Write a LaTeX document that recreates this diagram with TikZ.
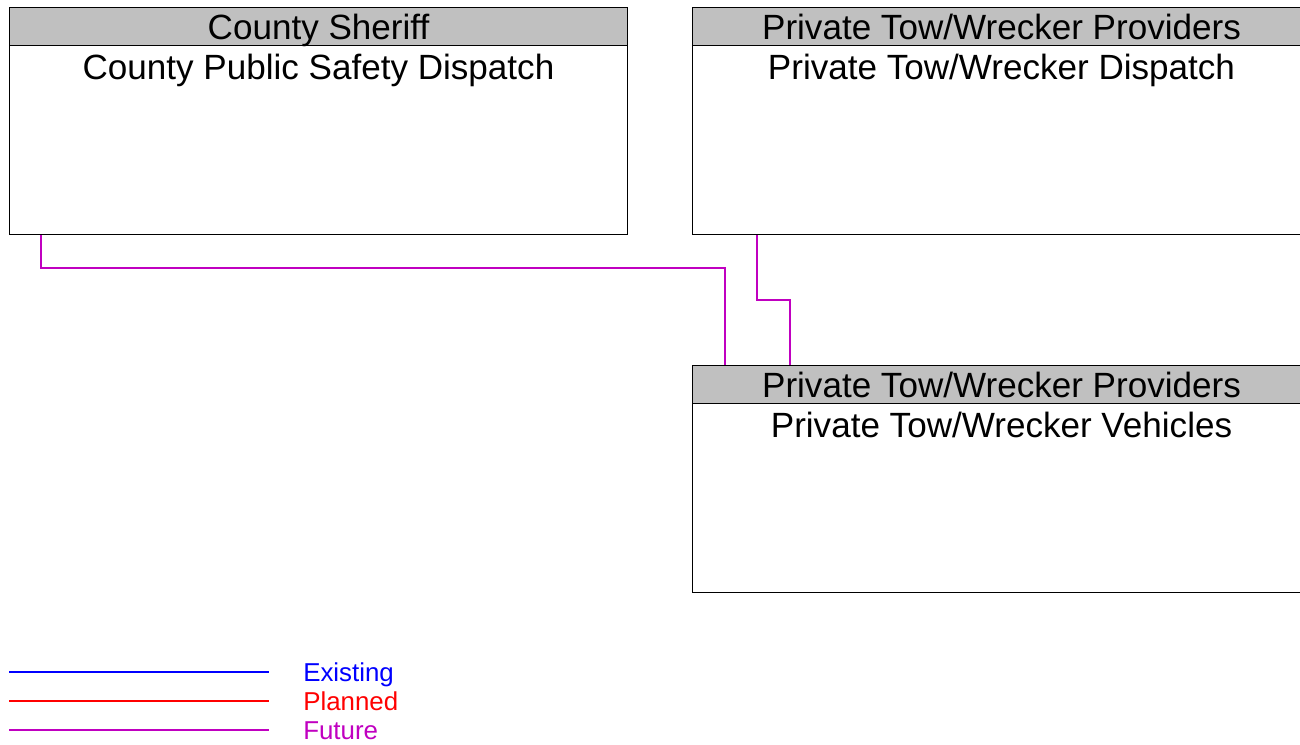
\documentclass[tikz,border=0pt]{standalone}
\usepackage{fontspec}
\setmainfont{Liberation Sans}
\usepackage{xcolor}
\usetikzlibrary{positioning}

\definecolor{hdrgray}{HTML}{C0C0C0}
\definecolor{existcol}{HTML}{0000FF}
\definecolor{plancol}{HTML}{FF0000}
\definecolor{futurecol}{HTML}{C000C0}

\begin{document}
\begin{tikzpicture}[
    x=0.75pt, y=-0.75pt,
    box/.style={rectangle, draw, line width=0.75pt, minimum width=463.5pt, minimum height=170.25pt, inner sep=0pt, anchor=north west},
    head/.style={rectangle, draw, line width=0.75pt, fill=hdrgray, minimum width=463.5pt, minimum height=28.5pt, inner sep=0pt, anchor=north west, text height=18.9pt, text depth=0pt, font=\fontsize{26.3}{30}\selectfont},
    body/.style={anchor=north, inner sep=0pt, yshift=-6.2pt, text height=18.9pt, text depth=5.3pt, font=\fontsize{26.3}{30}\selectfont},
    legtext/.style={anchor=west, inner sep=0pt, text height=14pt, text depth=0pt, font=\fontsize{19.4}{22}\selectfont},
    existing/.style={color=existcol, line width=0.8pt},
    planned/.style={color=plancol, line width=0.8pt},
    future/.style={color=futurecol, line width=0.8pt},
]
    \useasboundingbox (0,0) rectangle (1300,744);

    % boxes
    \node[box] (csd) at (9,7) {};
    \node[head] (csdh) at (csd.north west) {County Sheriff};
    \node[body] (csdt) at (csdh.south) {County Public Safety Dispatch};

    \node[box] (pd) at (692,7) {};
    \node[head] (pdh) at (pd.north west) {Private Tow/Wrecker Providers};
    \node[body] (pdt) at (pdh.south) {Private Tow/Wrecker Dispatch};

    \node[box] (tv) at (692,365) {};
    \node[head] (tvh) at (tv.north west) {Private Tow/Wrecker Providers};
    \node[body] (tvt) at (tvh.south) {Private Tow/Wrecker Vehicles};

    % flows
    \draw[future] ([xshift=24pt]csd.south west) -- ++(0,33) -| ([xshift=24.75pt]tv.north west);
    \draw[future] ([xshift=48.75pt]pd.south west) -- ++(0,65) -| ([xshift=73.5pt]tv.north west);

    % legend
    \coordinate (exa) at (9,672);
    \coordinate (exb) at (269,672);
    \coordinate (pla) at (9,701);
    \coordinate (plb) at (269,701);
    \coordinate (fua) at (9,730);
    \coordinate (fub) at (269,730);
    \node[legtext, text=existcol] (ex) at (303,672) {Existing};
    \node[legtext, text=plancol] (pl) at (303,701) {Planned};
    \node[legtext, text=futurecol] (fu) at (303,730) {Future};
    \draw[existing] (exa) -- (exb);
    \draw[planned] (pla) -- (plb);
    \draw[future] (fua) -- (fub);
\end{tikzpicture}
\end{document}
